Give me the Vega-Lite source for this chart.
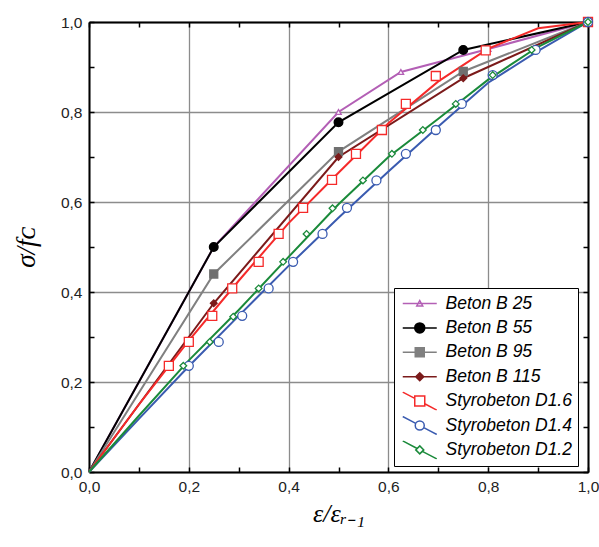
{
  "$schema": "https://vega.github.io/schema/vega-lite/v6.json",
  "width": 499,
  "height": 450,
  "autosize": {"type": "none"},
  "padding": {"left": 89, "top": 22, "right": 11, "bottom": 75},
  "background": "white",
  "config": {
    "view": {"stroke": null},
    "axis": {
      "domainColor": "black",
      "domainWidth": 2,
      "tickColor": "black",
      "tickWidth": 1.5,
      "labelFont": "Liberation Sans",
      "labelFontSize": 15.5,
      "labelColor": "#222222",
      "labelFlush": false,
      "gridColor": "#8c8c8c",
      "gridWidth": 1.3
    },
    "point": {"filled": true, "strokeWidth": 1.3, "opacity": 1}
  },
  "data": {
    "values": [
      {"s": "Beton B 25", "x": 0, "y": 0, "k": "l"},
      {"s": "Beton B 25", "x": 0.25, "y": 0.5, "k": "b"},
      {"s": "Beton B 25", "x": 0.5, "y": 0.8, "k": "b"},
      {"s": "Beton B 25", "x": 0.625, "y": 0.889, "k": "b"},
      {"s": "Beton B 25", "x": 0.8, "y": 0.94, "k": "b"},
      {"s": "Beton B 25", "x": 1, "y": 1, "k": "b"},
      {"s": "Beton B 55", "x": 0, "y": 0, "k": "l"},
      {"s": "Beton B 55", "x": 0.25, "y": 0.5, "k": "b"},
      {"s": "Beton B 55", "x": 0.5, "y": 0.777, "k": "b"},
      {"s": "Beton B 55", "x": 0.75, "y": 0.938, "k": "b"},
      {"s": "Beton B 55", "x": 1, "y": 1, "k": "b"},
      {"s": "Beton B 95", "x": 0, "y": 0, "k": "l"},
      {"s": "Beton B 95", "x": 0.25, "y": 0.44, "k": "b"},
      {"s": "Beton B 95", "x": 0.5, "y": 0.712, "k": "b"},
      {"s": "Beton B 95", "x": 0.75, "y": 0.89, "k": "b"},
      {"s": "Beton B 95", "x": 1, "y": 1, "k": "b"},
      {"s": "Beton B 115", "x": 0, "y": 0, "k": "l"},
      {"s": "Beton B 115", "x": 0.25, "y": 0.375, "k": "b"},
      {"s": "Beton B 115", "x": 0.5, "y": 0.7, "k": "b"},
      {"s": "Beton B 115", "x": 0.75, "y": 0.875, "k": "b"},
      {"s": "Beton B 115", "x": 1, "y": 1, "k": "b"},
      {"s": "Styrobeton D1.6", "x": 0, "y": 0, "k": "l"},
      {"s": "Styrobeton D1.6", "x": 0.1, "y": 0.15, "k": "l"},
      {"s": "Styrobeton D1.6", "x": 0.2, "y": 0.292, "k": "l"},
      {"s": "Styrobeton D1.6", "x": 0.3, "y": 0.425, "k": "l"},
      {"s": "Styrobeton D1.6", "x": 0.4, "y": 0.553, "k": "l"},
      {"s": "Styrobeton D1.6", "x": 0.5, "y": 0.665, "k": "l"},
      {"s": "Styrobeton D1.6", "x": 0.6, "y": 0.775, "k": "l"},
      {"s": "Styrobeton D1.6", "x": 0.7, "y": 0.868, "k": "l"},
      {"s": "Styrobeton D1.6", "x": 0.8, "y": 0.941, "k": "l"},
      {"s": "Styrobeton D1.6", "x": 0.9, "y": 0.986, "k": "l"},
      {"s": "Styrobeton D1.6", "x": 1, "y": 1, "k": "l"},
      {"s": "Styrobeton D1.6", "x": 0.16, "y": 0.236, "k": "p"},
      {"s": "Styrobeton D1.6", "x": 0.2, "y": 0.289, "k": "p"},
      {"s": "Styrobeton D1.6", "x": 0.247, "y": 0.347, "k": "p"},
      {"s": "Styrobeton D1.6", "x": 0.287, "y": 0.408, "k": "p"},
      {"s": "Styrobeton D1.6", "x": 0.34, "y": 0.467, "k": "p"},
      {"s": "Styrobeton D1.6", "x": 0.38, "y": 0.529, "k": "p"},
      {"s": "Styrobeton D1.6", "x": 0.429, "y": 0.587, "k": "p"},
      {"s": "Styrobeton D1.6", "x": 0.487, "y": 0.649, "k": "p"},
      {"s": "Styrobeton D1.6", "x": 0.535, "y": 0.707, "k": "p"},
      {"s": "Styrobeton D1.6", "x": 0.587, "y": 0.76, "k": "p"},
      {"s": "Styrobeton D1.6", "x": 0.635, "y": 0.818, "k": "p"},
      {"s": "Styrobeton D1.6", "x": 0.695, "y": 0.88, "k": "p"},
      {"s": "Styrobeton D1.6", "x": 0.795, "y": 0.937, "k": "p"},
      {"s": "Styrobeton D1.6", "x": 1, "y": 1, "k": "p"},
      {"s": "Styrobeton D1.4", "x": 0, "y": 0, "k": "l"},
      {"s": "Styrobeton D1.4", "x": 0.1, "y": 0.118, "k": "l"},
      {"s": "Styrobeton D1.4", "x": 0.2, "y": 0.235, "k": "l"},
      {"s": "Styrobeton D1.4", "x": 0.3, "y": 0.347, "k": "l"},
      {"s": "Styrobeton D1.4", "x": 0.4, "y": 0.458, "k": "l"},
      {"s": "Styrobeton D1.4", "x": 0.5, "y": 0.565, "k": "l"},
      {"s": "Styrobeton D1.4", "x": 0.6, "y": 0.668, "k": "l"},
      {"s": "Styrobeton D1.4", "x": 0.7, "y": 0.768, "k": "l"},
      {"s": "Styrobeton D1.4", "x": 0.8, "y": 0.865, "k": "l"},
      {"s": "Styrobeton D1.4", "x": 0.9, "y": 0.936, "k": "l"},
      {"s": "Styrobeton D1.4", "x": 1, "y": 1, "k": "l"},
      {"s": "Styrobeton D1.4", "x": 0.2, "y": 0.236, "k": "p"},
      {"s": "Styrobeton D1.4", "x": 0.26, "y": 0.289, "k": "p"},
      {"s": "Styrobeton D1.4", "x": 0.307, "y": 0.347, "k": "p"},
      {"s": "Styrobeton D1.4", "x": 0.36, "y": 0.408, "k": "p"},
      {"s": "Styrobeton D1.4", "x": 0.409, "y": 0.467, "k": "p"},
      {"s": "Styrobeton D1.4", "x": 0.468, "y": 0.529, "k": "p"},
      {"s": "Styrobeton D1.4", "x": 0.517, "y": 0.587, "k": "p"},
      {"s": "Styrobeton D1.4", "x": 0.576, "y": 0.648, "k": "p"},
      {"s": "Styrobeton D1.4", "x": 0.635, "y": 0.707, "k": "p"},
      {"s": "Styrobeton D1.4", "x": 0.695, "y": 0.76, "k": "p"},
      {"s": "Styrobeton D1.4", "x": 0.747, "y": 0.818, "k": "p"},
      {"s": "Styrobeton D1.4", "x": 0.809, "y": 0.882, "k": "p"},
      {"s": "Styrobeton D1.4", "x": 0.895, "y": 0.938, "k": "p"},
      {"s": "Styrobeton D1.4", "x": 1, "y": 1, "k": "p"},
      {"s": "Styrobeton D1.2", "x": 0, "y": 0, "k": "l"},
      {"s": "Styrobeton D1.2", "x": 0.1, "y": 0.125, "k": "l"},
      {"s": "Styrobeton D1.2", "x": 0.2, "y": 0.248, "k": "l"},
      {"s": "Styrobeton D1.2", "x": 0.3, "y": 0.36, "k": "l"},
      {"s": "Styrobeton D1.2", "x": 0.4, "y": 0.478, "k": "l"},
      {"s": "Styrobeton D1.2", "x": 0.5, "y": 0.595, "k": "l"},
      {"s": "Styrobeton D1.2", "x": 0.6, "y": 0.7, "k": "l"},
      {"s": "Styrobeton D1.2", "x": 0.7, "y": 0.785, "k": "l"},
      {"s": "Styrobeton D1.2", "x": 0.8, "y": 0.872, "k": "l"},
      {"s": "Styrobeton D1.2", "x": 0.9, "y": 0.945, "k": "l"},
      {"s": "Styrobeton D1.2", "x": 1, "y": 1, "k": "l"},
      {"s": "Styrobeton D1.2", "x": 0.189, "y": 0.236, "k": "p"},
      {"s": "Styrobeton D1.2", "x": 0.242, "y": 0.289, "k": "p"},
      {"s": "Styrobeton D1.2", "x": 0.289, "y": 0.345, "k": "p"},
      {"s": "Styrobeton D1.2", "x": 0.34, "y": 0.408, "k": "p"},
      {"s": "Styrobeton D1.2", "x": 0.389, "y": 0.467, "k": "p"},
      {"s": "Styrobeton D1.2", "x": 0.436, "y": 0.529, "k": "p"},
      {"s": "Styrobeton D1.2", "x": 0.488, "y": 0.586, "k": "p"},
      {"s": "Styrobeton D1.2", "x": 0.549, "y": 0.648, "k": "p"},
      {"s": "Styrobeton D1.2", "x": 0.607, "y": 0.707, "k": "p"},
      {"s": "Styrobeton D1.2", "x": 0.669, "y": 0.76, "k": "p"},
      {"s": "Styrobeton D1.2", "x": 0.735, "y": 0.818, "k": "p"},
      {"s": "Styrobeton D1.2", "x": 0.809, "y": 0.882, "k": "p"},
      {"s": "Styrobeton D1.2", "x": 0.887, "y": 0.938, "k": "p"},
      {"s": "Styrobeton D1.2", "x": 1, "y": 1, "k": "p"}
    ]
  },
  "layer": [
    {
      "transform": [{"filter": "datum.k !== 'p'"}],
      "mark": {"type": "line", "strokeWidth": 2},
      "encoding": {
        "x": {
          "field": "x", "type": "quantitative",
          "scale": {"domain": [0, 1], "nice": false},
          "axis": {
            "orient": "bottom",
            "values": [0, 0.1, 0.2, 0.3, 0.4, 0.5, 0.6, 0.7, 0.8, 0.9, 1],
            "labelExpr": "round(datum.value*10)%2===0 ? replace(format(datum.value,'.1f'),'.',',') : ''",
            "tickSize": -5,
            "labelPadding": 12,
            "grid": true,
            "gridOpacity": {"condition": {"test": "round(datum.value*10)%2===0", "value": 1}, "value": 0},
            "title": "ε/εᵣ₋₁",
            "titleFont": "Liberation Serif",
            "titleFontStyle": "italic",
            "titleFontWeight": "normal",
            "titleFontSize": 26,
            "titleColor": "black",
            "titlePadding": 6
          }
        },
        "y": {
          "field": "y", "type": "quantitative",
          "scale": {"domain": [0, 1], "nice": false},
          "axis": {
            "orient": "left",
            "values": [0, 0.1, 0.2, 0.3, 0.4, 0.5, 0.6, 0.7, 0.8, 0.9, 1],
            "labelExpr": "round(datum.value*10)%2===0 ? replace(format(datum.value,'.1f'),'.',',') : ''",
            "tickSize": -5,
            "labelPadding": 12,
            "grid": true,
            "gridOpacity": {"condition": {"test": "round(datum.value*10)%2===0", "value": 1}, "value": 0},
            "title": "σ/fᴄ",
            "titleFont": "Liberation Serif",
            "titleFontStyle": "italic",
            "titleFontWeight": "normal",
            "titleFontSize": 27,
            "titleColor": "black",
            "titlePadding": 20
          }
        },
        "color": {
          "field": "s", "type": "nominal",
          "scale": {
            "domain": ["Beton B 25", "Beton B 55", "Beton B 95", "Beton B 115", "Styrobeton D1.6", "Styrobeton D1.4", "Styrobeton D1.2"],
            "range": ["#b35fb5", "#000000", "#808080", "#7b1a1a", "#f52a2a", "#3a5bb0", "#1a8a3a"]
          },
          "legend": {
            "orient": "none",
            "legendX": 305,
            "legendY": 266,
            "title": null,
            "strokeColor": "black",
            "fillColor": "white",
            "padding": 6,
            "labelFont": "Liberation Sans",
            "labelFontStyle": "italic",
            "labelFontSize": 17.5,
            "labelColor": "black",
            "labelOffset": 28,
            "labelLimit": 200,
            "rowPadding": 5.4,
            "clipHeight": 19,
            "symbolSize": 100,
            "symbolStrokeWidth": 1.5,
            "encode": {
              "symbols": {
                "update": {
                  "shape": {"signal": "datum.value === 'Beton B 25' ? 'M-1.2,0L5.6,0M2.2,-0.6L2.8,0.5L1.6,0.5Z' : datum.value === 'Beton B 55' ? 'M-1.2,0L5.6,0M3.2,0A1,1 0 1,1 1.2,0A1,1 0 1,1 3.2,0Z' : datum.value === 'Beton B 95' ? 'M-1.2,0L5.6,0M1.3,-0.9H3.1V0.9H1.3Z' : datum.value === 'Beton B 115' ? 'M-1.2,0L5.6,0M2.2,-0.8L3,0L2.2,0.8L1.4,0Z' : datum.value === 'Styrobeton D1.6' ? 'M-1.2,-1.8L1.2,-0.53M3.2,0.53L5.6,1.8M1.2,-1H3.2V1H1.2Z' : datum.value === 'Styrobeton D1.4' ? 'M-1.2,-1.8L1.4,-0.42M3,0.42L5.6,1.8M3.1,0A0.9,0.9 0 1,1 1.3,0A0.9,0.9 0 1,1 3.1,0Z' : 'M-1.2,-1.8L1.68,-0.28M2.72,0.28L5.6,1.8M2.2,-0.8L3,0L2.2,0.8L1.4,0Z'"},
                  "fill": {"signal": "indexof(['Beton B 25','Styrobeton D1.6','Styrobeton D1.4','Styrobeton D1.2'], datum.value) >= 0 ? 'white' : scale('color', datum.value)"},
                  "strokeWidth": {"value": 1.5},
                  "opacity": {"value": 1}
                }
              }
            }
          }
        }
      }
    },
    {
      "transform": [{"filter": "datum.s === 'Beton B 25' && datum.k !== 'l'"}],
      "mark": {"type": "point", "shape": "triangle-up", "size": 30, "stroke": "#b35fb5", "fill": "white"},
      "encoding": {
        "x": {
          "field": "x", "type": "quantitative",
          "axis": {
            "orient": "top",
            "values": [0, 0.1, 0.2, 0.3, 0.4, 0.5, 0.6, 0.7, 0.8, 0.9, 1],
            "labels": false, "grid": false, "title": null, "tickSize": -5
          }
        },
        "y": {
          "field": "y", "type": "quantitative",
          "axis": {
            "orient": "right",
            "values": [0, 0.1, 0.2, 0.3, 0.4, 0.5, 0.6, 0.7, 0.8, 0.9, 1],
            "labels": false, "grid": false, "title": null, "tickSize": -5
          }
        }
      }
    },
    {
      "transform": [{"filter": "datum.s === 'Beton B 55' && datum.k !== 'l'"}],
      "mark": {"type": "point", "shape": "circle", "size": 75, "stroke": "#000000", "fill": "#000000"},
      "encoding": {
        "x": {"field": "x", "type": "quantitative", "axis": null},
        "y": {"field": "y", "type": "quantitative", "axis": null}
      }
    },
    {
      "transform": [{"filter": "datum.s === 'Beton B 95' && datum.k !== 'l'"}],
      "mark": {"type": "point", "shape": "square", "size": 64, "stroke": "#707070", "fill": "#707070"},
      "encoding": {
        "x": {"field": "x", "type": "quantitative", "axis": null},
        "y": {"field": "y", "type": "quantitative", "axis": null}
      }
    },
    {
      "transform": [{"filter": "datum.s === 'Beton B 115' && datum.k !== 'l'"}],
      "mark": {"type": "point", "shape": "diamond", "size": 45, "stroke": "#7b1a1a", "fill": "#7b1a1a"},
      "encoding": {
        "x": {"field": "x", "type": "quantitative", "axis": null},
        "y": {"field": "y", "type": "quantitative", "axis": null}
      }
    },
    {
      "transform": [{"filter": "datum.s === 'Styrobeton D1.6' && datum.k !== 'l'"}],
      "mark": {"type": "point", "shape": "square", "size": 81, "stroke": "#f52a2a", "fill": "white"},
      "encoding": {
        "x": {"field": "x", "type": "quantitative", "axis": null},
        "y": {"field": "y", "type": "quantitative", "axis": null}
      }
    },
    {
      "transform": [{"filter": "datum.s === 'Styrobeton D1.4' && datum.k !== 'l'"}],
      "mark": {"type": "point", "shape": "circle", "size": 81, "stroke": "#3a5bb0", "fill": "white"},
      "encoding": {
        "x": {"field": "x", "type": "quantitative", "axis": null},
        "y": {"field": "y", "type": "quantitative", "axis": null}
      }
    },
    {
      "transform": [{"filter": "datum.s === 'Styrobeton D1.2' && datum.k !== 'l'"}],
      "mark": {"type": "point", "shape": "diamond", "size": 45, "stroke": "#1a8a3a", "fill": "white"},
      "encoding": {
        "x": {"field": "x", "type": "quantitative", "axis": null},
        "y": {"field": "y", "type": "quantitative", "axis": null}
      }
    }
  ],
  "resolve": {"axis": {"x": "independent", "y": "independent"}}
}
